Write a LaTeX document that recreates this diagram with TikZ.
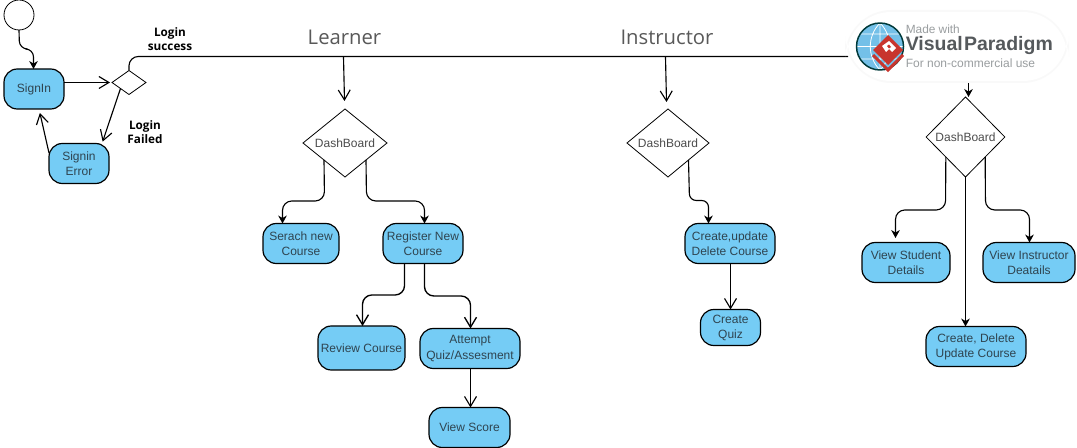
\documentclass[tikz,border=0pt]{standalone}
\usepackage{fontspec}
\setmainfont{Liberation Sans}
\newfontfamily\lblfont{Open Sans}
\usetikzlibrary{arrows.meta,shapes.geometric}
\definecolor{fillblue}{HTML}{75CCF5}
\definecolor{txt}{HTML}{2F4450}
\definecolor{vpred}{HTML}{C8352E}
\definecolor{vpblue}{HTML}{74C0E8}
\definecolor{vpgray}{HTML}{55595C}
\definecolor{vplight}{HTML}{9A9EA0}
\tikzset{
 x=0.75pt,y=-0.75pt,
 act/.style={draw=black,line width=0.9pt,fill=fillblue,rounded corners=10pt,inner sep=0pt,outer sep=0pt,align=center,text=txt,font=\fontsize{9pt}{11.3pt}\selectfont},
 dec/.style={draw=black,line width=0.6pt,fill=white,diamond,aspect=1.15,inner sep=0pt,outer sep=0pt,text=black!70,font=\fontsize{9pt}{10pt}\selectfont},
 openarr/.style={-{Straight Barb[length=7.5pt,width=9pt]},line width=0.85pt,rounded corners=7pt},
 solidarr/.style={-{Stealth[length=6pt,width=6.5pt]},line width=0.85pt,rounded corners=7pt},
 head/.style={text=black!65,font=\lblfont\fontsize{15.2pt}{17pt}\selectfont},
 cond/.style={align=center,font=\lblfont\bfseries\fontsize{8.8pt}{10.4pt}\selectfont}
}
\newcommand{\abox}[6]{\node[act,minimum width=#4*0.75pt,minimum height=#5*0.75pt] (#1) at (#2,#3) {#6};}
\begin{document}
\begin{tikzpicture}
\useasboundingbox (0,0) rectangle (1077,448);
\fill[white] (0,0) rectangle (1077,448);
% start and login
\node[draw=black,line width=0.6pt,fill=white,circle,minimum size=22.5pt,inner sep=0pt,outer sep=0pt] (start) at (19,15) {};
\abox{signin}{34}{89}{60}{40}{SignIn}
\abox{err}{79}{163.5}{60}{40}{Signin\\Error}
\node[dec,minimum width=25.5pt,minimum height=18pt,aspect=1.4] (login) at (129,82.5) {};
\coordinate (busend) at (848,56.5);
\draw[line width=0.85pt,rounded corners=7pt] (login.north) -- (129,56.5) -- (busend);
\draw[solidarr,rounded corners=6pt] (start.south) -- (19.5,49) -- (33.5,49) -- (signin.north -| 33.5,0);
\draw[openarr,shorten >=1.5pt] (signin.east |- login.west) -- (login.west);
\draw[openarr,shorten >=1.5pt] (login.south west) -- (err.north -| 102,0);
\draw[openarr,shorten >=3pt] (err.west |- 0,153) -- (signin.south -| 39,0);
\node[cond] (ok) at (170,39) {Login\\success};
\node[cond] (fail) at (145,132) {Login\\Failed};
% learner
\node[head] (learner) at (344.5,37) {Learner};
\node[dec,minimum width=63pt,minimum height=51pt] (d1) at (345,143) {DashBoard};
\abox{search}{301}{243.5}{76}{40}{Serach new\\Course}
\abox{reg}{423}{243.5}{80}{40}{Register New\\Course}
\abox{rev}{361.5}{348}{87}{44}{Review Course}
\abox{att}{470}{348.5}{100}{40}{Attempt\\Quiz/Assesment}
\abox{score}{469.5}{427.5}{81}{40}{View Score}
\coordinate (l1) at (343.5,57);
\coordinate (t1) at (344.5,101);
\draw[openarr] (l1) -- (t1);
\draw[solidarr] (d1.south west) -- (324.5,201) -- (282.5,201) -- (search.north -| 282.5,0);
\draw[solidarr] (d1.south east) -- (366.5,201) -- (424.5,201) -- (reg.north -| 424.5,0);
\draw[openarr,line width=1pt] (reg.south -| 404.5,0) -- (404.5,295) -- (362.5,295) -- (rev.north -| 362.5,0);
\draw[openarr,line width=1pt] (reg.south -| 424.5,0) -- (424.5,296) -- (470.5,296) -- (att.north -| 470.5,0);
\draw[openarr] (att.south -| 470.5,0) -- (score.north -| 470.5,0);
% instructor
\node[head] (instr) at (667,37) {Instructor};
\node[dec,minimum width=61.5pt,minimum height=51pt] (d2) at (668,143) {DashBoard};
\abox{cud}{730}{243.5}{90}{40}{Create,update\\Delete Course}
\abox{quiz}{730.5}{327.5}{60}{36}{Create\\Quiz}
\coordinate (l2) at (665.5,57);
\coordinate (t2) at (666.5,102);
\draw[openarr] (l2) -- (t2);
\draw[solidarr,rounded corners=5pt] (d2.south east) -- (689.5,200.5) -- (708.5,200.5) -- (cud.north -| 708.5,0);
\draw[openarr] (cud.south -| 730.5,0) -- (quiz.north -| 730.5,0);
% admin
\node[dec,minimum width=59pt,minimum height=60pt] (d3) at (965.5,137) {DashBoard};
\abox{vs}{906}{262.5}{88}{40}{View Student\\Details}
\abox{vi}{1029}{262.5}{92}{40}{View Instructor\\Deatails}
\abox{cdu}{976}{346.5}{100}{40}{Create, Delete\\Update Course}
\coordinate (l3) at (968.5,81);
\draw[solidarr] (l3) -- (d3.north -| 968.5,0);
\draw[solidarr] (d3.south west) -- (945.5,210) -- (895.5,210) -- (895.5,238);
\draw[solidarr] (d3.south east) -- (985.5,210) -- (1029.5,210) -- (vi.north -| 1029.5,0);
\draw[solidarr] (d3.south) -- (cdu.north -| 965.5,0);
% badge
\fill[black!2.5,rounded corners=35pt] (845,10) rectangle (1069,83);
\fill[white,rounded corners=33pt] (847,12) rectangle (1067,81);
\fill[vpblue] (880,46.5) circle (23.5);
\draw[white,line width=0.6pt] (880,23) -- (880,70) (856.5,46.5) -- (903.5,46.5) (860,34) -- (900,34) (860,59) -- (900,59) (880,23) to[bend left=45] (880,70) (880,23) to[bend right=45] (880,70);
\draw[black!55!teal,line width=1.1pt] (880,46.5) circle (23.5);
\draw[vpred,line width=2.2pt,line join=miter] (873,55) -- (888,70) -- (903,55);
\fill[vpred] (888,35) -- (903,50) -- (888,65) -- (873,50) -- cycle;
\fill[white] (882,46) -- (889,41) -- (896,48) -- (892,52) -- (889,49) -- (886,52) -- cycle;
\fill[vpred] (887,46) -- (889,44.5) -- (891,47) -- (889,48.5) -- cycle;
\node[anchor=west,text=vplight,inner sep=0pt,font=\fontsize{8.9pt}{10pt}\selectfont] (vp1) at (905.5,29.5) {Made with};
\node[anchor=west,text=vpgray,inner sep=0pt,font=\bfseries\fontsize{14.6pt}{17pt}\selectfont] (vp2) at (905.5,46) {Visual\kern1pt Paradigm};
\node[anchor=west,text=vplight,inner sep=0pt,font=\fontsize{9pt}{10pt}\selectfont] (vp3) at (905.5,63) {For non-commercial use};
\end{tikzpicture}
\end{document}
